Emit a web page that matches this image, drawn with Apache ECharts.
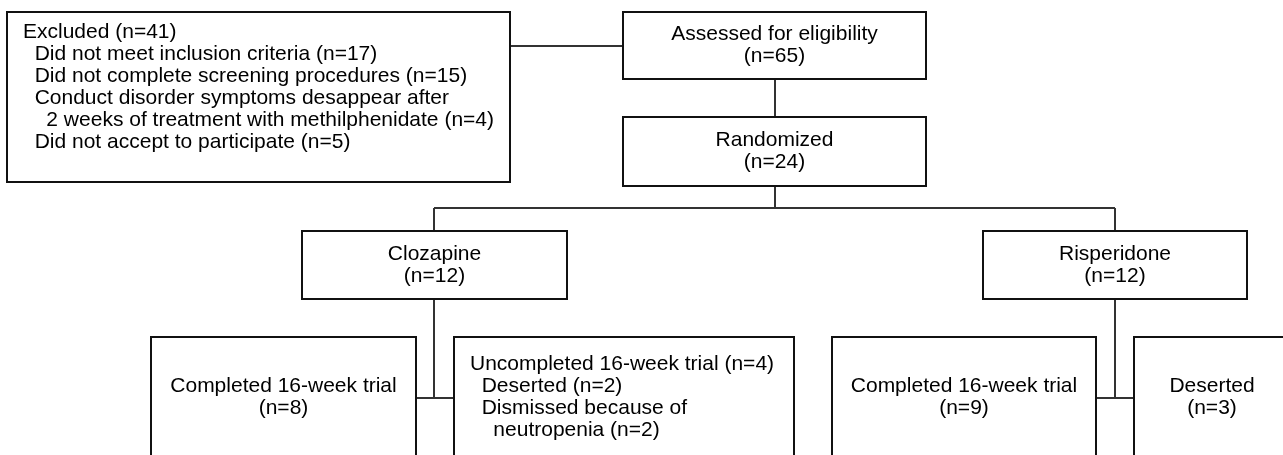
<!DOCTYPE html>
<html>
<head>
<meta charset="utf-8">
<script src="https://cdn.jsdelivr.net/npm/echarts@6/dist/echarts.min.js"></script>
<style>
html,body{margin:0;padding:0;background:#fff;}
#c{width:1283px;height:455px;}
</style>
</head>
<body>
<div id="c"></div>
<script>
// ---- data (text + counts) ----
const stageLabels = ['Assessed for eligibility', 'Randomized', 'Clozapine', 'Risperidone',
  'Completed 16-week trial', 'Completed 16-week trial', 'Deserted'];
const stageCounts = [65, 24, 12, 12, 8, 9, 3];
const excludedLabel = 'Excluded';
const excludedTotal = 41;
const excludedReasons = ['Did not meet inclusion criteria', 'Did not complete screening procedures',
  'Conduct disorder symptoms desappear after\n  2 weeks of treatment with methilphenidate',
  'Did not accept to participate'];
const excludedCounts = [17, 15, 4, 5];
const uncompletedLabel = 'Uncompleted 16-week trial';
const uncompletedTotal = 4;
const uncompletedReasons = ['Deserted', 'Dismissed because of\n  neutropenia'];
const uncompletedCounts = [2, 2];

// ---- layout (axis units = pixels of the figure) ----
const boxLayout = {
  excluded:   {rect: [7, 12, 510, 182],   anchor: [23, 21],    align: 'left',   v: 'top'},
  assessed:   {rect: [623, 12, 926, 79],  align: 'center', v: 'middle'},
  randomized: {rect: [623, 117, 926, 186], align: 'center', v: 'middle'},
  clozapine:  {rect: [302, 231, 567, 299], align: 'center', v: 'middle'},
  risperidone:{rect: [983, 231, 1247, 299], align: 'center', v: 'middle'},
  complClo:   {rect: [151, 337, 416, 458], align: 'center', v: 'middle', cy: 397},
  uncompl:    {rect: [454, 337, 794, 458], anchor: [470, 397.5], align: 'left', v: 'middle'},
  complRis:   {rect: [832, 337, 1096, 458], align: 'center', v: 'middle', cy: 397},
  desRis:     {rect: [1134, 337, 1290, 458], align: 'center', v: 'middle', cy: 397}
};
const stageKeys = ['assessed', 'randomized', 'clozapine', 'risperidone', 'complClo', 'complRis', 'desRis'];
const connectors = [
  [510, 46, 623, 46], [775, 79, 775, 117], [775, 186, 775, 208],
  [434, 208, 1115, 208], [434, 208, 434, 231], [1115, 208, 1115, 231],
  [434, 299, 434, 398], [416, 398, 454, 398],
  [1115, 299, 1115, 398], [1096, 398, 1134, 398]
];

// ---- build texts ----
function indent(s, pre) { return s.split('\n').map(l => pre + l).join('\n'); }
const texts = {};
stageKeys.forEach((k, i) => { texts[k] = stageLabels[i] + '\n(n=' + stageCounts[i] + ')'; });
texts.excluded = excludedLabel + ' (n=' + excludedTotal + ')\n' +
  excludedReasons.map((r, i) => indent(r, '  ') + ' (n=' + excludedCounts[i] + ')').join('\n');
texts.uncompl = uncompletedLabel + ' (n=' + uncompletedTotal + ')\n' +
  uncompletedReasons.map((r, i) => indent(r, '  ') + ' (n=' + uncompletedCounts[i] + ')').join('\n');

const boxKeys = Object.keys(boxLayout);
const boxData = boxKeys.map((k, i) => boxLayout[k].rect.concat([i]));

const FONT = '21px "Liberation Sans", Arial, sans-serif';

const chart = echarts.init(document.getElementById('c'), null, {renderer: 'canvas'});
chart.setOption({
  animation: false,
  backgroundColor: '#ffffff',
  grid: {left: 0, right: 0, top: 0, bottom: 0},
  xAxis: {type: 'value', min: 0, max: 1283, show: false},
  yAxis: {type: 'value', min: 0, max: 455, inverse: true, show: false},
  series: [
    {
      type: 'custom',
      coordinateSystem: 'cartesian2d',
      data: connectors,
      clip: false,
      renderItem: function (params, api) {
        const a = api.coord([api.value(0), api.value(1)]);
        const b = api.coord([api.value(2), api.value(3)]);
        return {
          type: 'line',
          shape: {x1: a[0], y1: a[1], x2: b[0], y2: b[1]},
          style: {stroke: '#333', lineWidth: 2}
        };
      }
    },
    {
      type: 'custom',
      coordinateSystem: 'cartesian2d',
      data: boxData,
      clip: false,
      renderItem: function (params, api) {
        const k = boxKeys[api.value(4)];
        const L = boxLayout[k];
        const p0 = api.coord([api.value(0), api.value(1)]);
        const p1 = api.coord([api.value(2), api.value(3)]);
        let tp;
        if (L.anchor) tp = api.coord(L.anchor);
        else tp = api.coord([(api.value(0) + api.value(2)) / 2,
          L.cy !== undefined ? L.cy : (api.value(1) + api.value(3)) / 2]);
        return {
          type: 'group',
          children: [
            {type: 'rect',
             shape: {x: p0[0], y: p0[1], width: p1[0] - p0[0], height: p1[1] - p0[1]},
             style: {fill: '#fff', stroke: '#111', lineWidth: 2}},
            {type: 'text',
             style: {text: texts[k], x: tp[0], y: tp[1], font: FONT, fill: '#000',
               align: L.align, verticalAlign: L.v, textAlign: L.align, textVerticalAlign: L.v,
               lineHeight: 22}}
          ]
        };
      }
    }
  ]
});
</script>
</body>
</html>
